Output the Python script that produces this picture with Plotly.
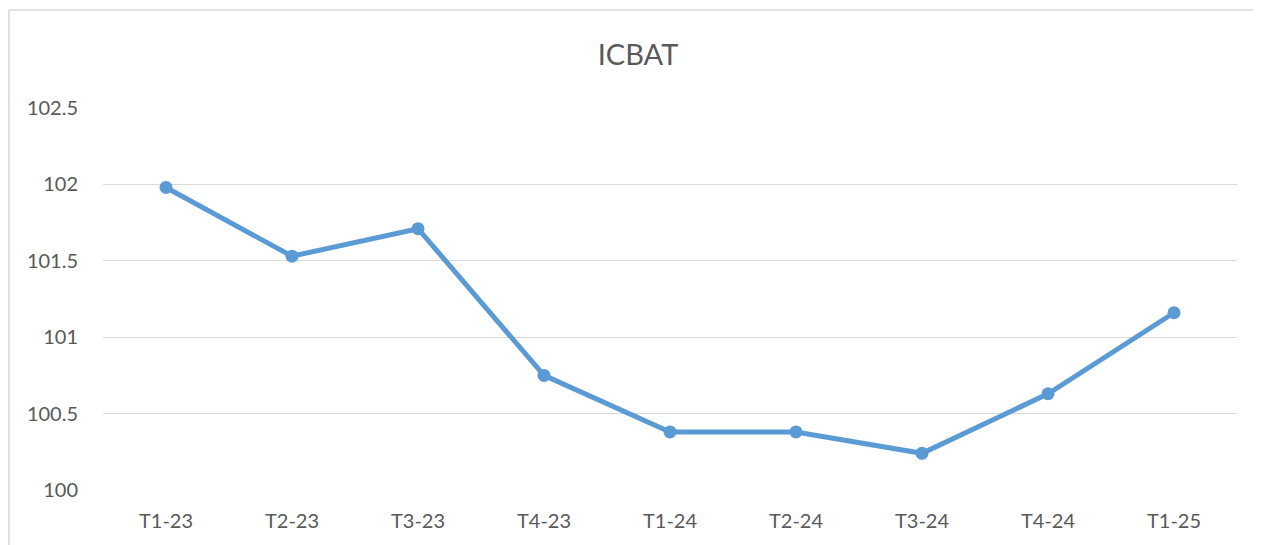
import plotly.graph_objects as go

categories = ["T1-23", "T2-23", "T3-23", "T4-23", "T1-24", "T2-24", "T3-24", "T4-24", "T1-25"]
values = [101.98, 101.53, 101.71, 100.75, 100.38, 100.38, 100.24, 100.63, 101.16]
y_ticks = [100, 100.5, 101, 101.5, 102, 102.5]
y_tick_labels = ["100", "100.5", "101", "101.5", "102", "102.5"]

# page body has an 8px margin, so the figure is sized/offset accordingly
W, H = 1261, 537
L, R, T, B = 95, 32, 100, 55
pw, ph = W - L - R, H - T - B

def px(x):
    return (x - L) / pw

def py(y):
    return (H - B - y) / ph

fig = go.Figure()
fig.add_trace(go.Scatter(
    x=categories, y=values, mode="lines+markers",
    line=dict(color="#5B9BD5", width=5),
    marker=dict(color="#5B9BD5", size=13),
    hoverinfo="x+y",
))

fig.update_layout(
    width=W, height=H,
    margin=dict(l=L, r=R, t=T, b=B),
    paper_bgcolor="white", plot_bgcolor="white",
    font=dict(family="Lato, Open Sans, sans-serif", color="#595959", size=20),
    title=dict(text="ICBAT", x=px(630), xanchor="center", xref="paper",
               y=1 - 47 / H, yanchor="middle",
               font=dict(size=29, color="#595959")),
    showlegend=False,
    xaxis=dict(
        type="category", range=[-0.5, len(categories) - 0.5],
        showgrid=False, showline=False, zeroline=False,
        ticks="outside", ticklen=13, tickcolor="rgba(0,0,0,0)",
        tickfont=dict(size=20, color="#595959"),
    ),
    yaxis=dict(
        range=[100, 102.5], tickvals=y_ticks, ticktext=y_tick_labels,
        showgrid=True, gridcolor="#D9D9D9", gridwidth=1.4,
        zeroline=False, showline=False,
        ticks="outside", ticklen=20, tickcolor="rgba(0,0,0,0)",
        tickfont=dict(size=20, color="#595959"),
    ),
    shapes=[
        dict(type="line", xref="paper", yref="paper",
             x0=px(1), x1=px(1), y0=py(2), y1=py(560),
             line=dict(color="#D9D9D9", width=1.6), layer="below"),
        dict(type="line", xref="paper", yref="paper",
             x0=px(1), x1=px(1300), y0=py(2), y1=py(2),
             line=dict(color="#D9D9D9", width=1.6), layer="below"),
    ],
)

fig.write_html("out.html")
